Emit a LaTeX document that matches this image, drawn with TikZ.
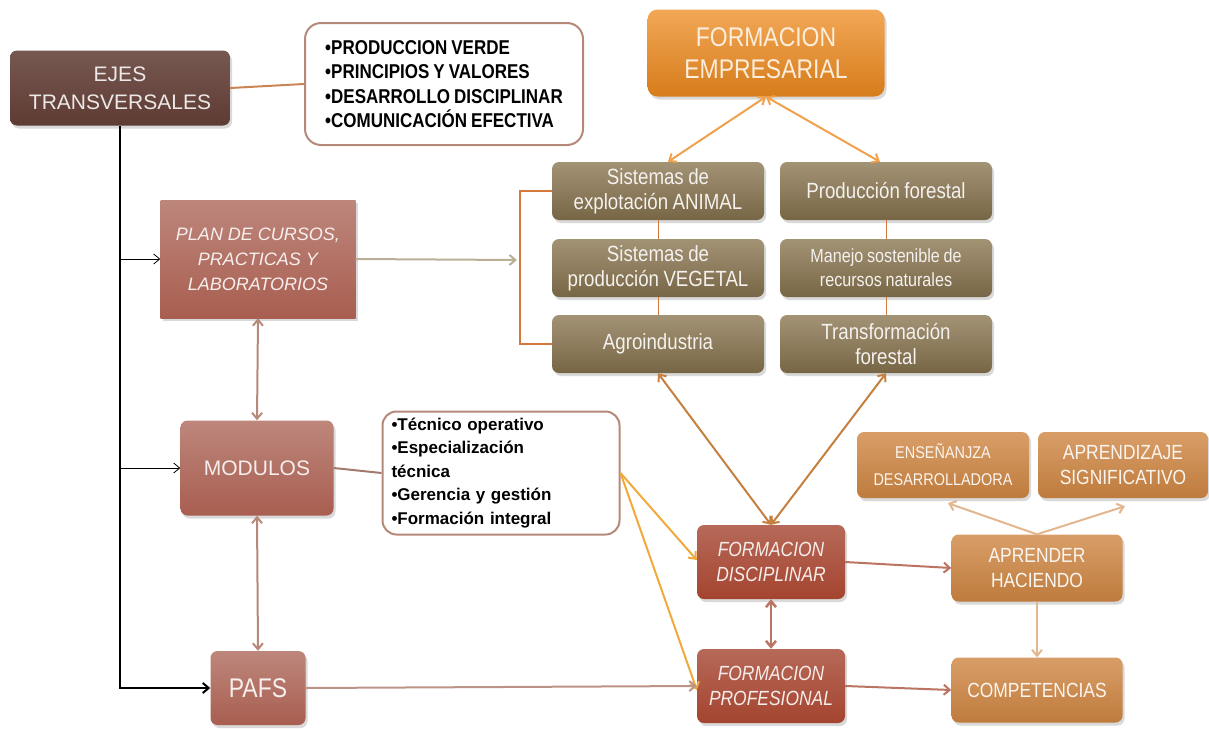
\documentclass[tikz,border=0pt]{standalone}
\usepackage{fontspec}
\setmainfont{Liberation Sans}
\newfontfamily\narrowfont{Liberation Sans}[FakeStretch=0.85, WordSpace=0.85]
\usetikzlibrary{positioning}
\usetikzlibrary{calc}
\usetikzlibrary{arrows.meta}
\usetikzlibrary{shadows}

\definecolor{ejesC}{HTML}{5E3B33}
\definecolor{empC}{HTML}{EE8A1E}
\definecolor{oliveC}{HTML}{8C7852}
\definecolor{roseC}{HTML}{A85E50}
\definecolor{redC}{HTML}{A4442F}
\definecolor{lightC}{HTML}{CF8642}
\definecolor{frameC}{HTML}{B5887A}
\definecolor{yellowC}{HTML}{F2A93B}

\tikzset{
  box/.style={rounded corners=7pt, align=center, inner sep=2pt,
    drop shadow={opacity=0.3, shadow xshift=2pt, shadow yshift=-3pt}},
  ejesbox/.style={box, top color=ejesC!85!white, bottom color=ejesC, text=white!88!ejesC,
    font=\fontsize{21}{28}\selectfont},
  listbox/.style={rounded corners=16pt, draw=frameC, line width=2pt, fill=white, text=black,
    font=\narrowfont\bfseries\fontsize{20}{24.5}\selectfont, align=left},
  empbox/.style={box, rounded corners=10pt, top color=empC!75!white, bottom color=empC!90!black,
    text=white!85!empC, font=\narrowfont\fontsize{27}{32}\selectfont},
  areabox/.style={box, minimum width=212pt, minimum height=58pt, top color=oliveC!80!white,
    bottom color=oliveC!85!black, text=white!90!oliveC, font=\narrowfont\fontsize{22}{25}\selectfont},
  planbox/.style={box, top color=roseC!75!white, bottom color=roseC, text=white!90!roseC,
    font=\fontsize{21}{24}\selectfont},
  formbox/.style={box, minimum width=148pt, minimum height=74pt, top color=redC!80!white,
    bottom color=redC, text=white!90!redC, font=\narrowfont\itshape\fontsize{20.5}{25}\selectfont},
  lightbox/.style={box, top color=lightC!80!white, bottom color=lightC!92!black,
    text=white!92!lightC, font=\narrowfont\fontsize{20.5}{25}\selectfont},
  link/.style={line width=2pt},
}

\begin{document}
\begin{tikzpicture}[x=1pt, y=-1pt, >={Straight Barb[length=6pt,width=10pt]}]
\useasboundingbox (0,0) rectangle (1209,728);

% left column
\node[ejesbox, minimum width=220pt, minimum height=75pt] (ejes) at (120,88) {EJES\\TRANSVERSALES};
\node[listbox, minimum width=278pt, minimum height=122pt] (ejeslist) at (444,84)
  {•PRODUCCION VERDE\\•PRINCIPIOS Y VALORES\\•DESARROLLO DISCIPLINAR\\•COMUNICACIÓN EFECTIVA};
\node[planbox, rounded corners=0pt, minimum width=195pt, minimum height=118pt,
  font=\itshape\fontsize{18}{25}\selectfont] (plan) at (258,259)
  {PLAN DE CURSOS,\\PRACTICAS Y\\LABORATORIOS};
\node[planbox, minimum width=153pt, minimum height=95pt] (modulos) at (257,468) {MODULOS};
\node[planbox, minimum width=95pt, minimum height=74pt, font=\narrowfont\fontsize{27}{30}\selectfont] (pafs) at (258,688) {PAFS};
\node[listbox, rounded corners=14pt, minimum width=237pt, minimum height=123pt, text width=219pt,
  inner xsep=9pt, font=\bfseries\fontsize{17}{23.5}\selectfont] (modlist) at (501,473)
  {•Técnico operativo\\•Especialización\\técnica\\•Gerencia y gestión\\•Formación integral};

% areas
\node[empbox, minimum width=237pt, minimum height=87pt] (empresarial) at (766,53) {FORMACION\\EMPRESARIAL};
\node[areabox] (animal) at (658,191) {Sistemas de\\explotación ANIMAL};
\node[areabox] (vegetal) at (658,268) {Sistemas de\\producción VEGETAL};
\node[areabox] (agro) at (658,344) {Agroindustria};
\node[areabox] (prodfor) at (886,191) {Producción forestal};
\node[areabox, font=\narrowfont\fontsize{19}{24}\selectfont] (manejo) at (886,268) {Manejo sostenible de\\recursos naturales};
\node[areabox] (transfor) at (886,344) {Transformación\\forestal};

% formacion
\node[formbox] (disciplinar) at (771,562) {FORMACION\\DISCIPLINAR};
\node[formbox] (profesional) at (771,686) {FORMACION\\PROFESIONAL};
\node[lightbox, minimum width=172pt, minimum height=66pt, font=\narrowfont\fontsize{17}{27}\selectfont] (ensenanza) at (943,465) {ENSEÑANJZA\\DESARROLLADORA};
\node[lightbox, minimum width=170pt, minimum height=66pt] (significativo) at (1123,465) {APRENDIZAJE\\SIGNIFICATIVO};
\node[lightbox, minimum width=171pt, minimum height=67pt] (aprender) at (1037,568) {APRENDER\\HACIENDO};
\node[lightbox, minimum width=171pt, minimum height=65pt] (competencias) at (1037,690) {COMPETENCIAS};

% ejes transversales
\draw[link, color=frameC!70!orange] (ejes.east) -- (ejeslist.west);
\draw[line width=2pt, ->] (ejes.south) |- (pafs.west);
\coordinate (p_plan) at (ejes.south |- plan.west);
\coordinate (p_mod) at (ejes.south |- modulos.west);
\draw[thick, ->] (p_plan) -- (plan.west);
\draw[thick, ->] (p_mod) -- (modulos.west);

% plan, modulos, pafs
\draw[link, color=frameC, <->] (plan.south) -- (modulos.north);
\draw[link, color=frameC, <->] (modulos.south) -- (pafs.north);
\draw[link, color=frameC!90!black] (modulos.east) -- (modlist.west);
\coordinate (brk) at (517,260);
\draw[link, color=oliveC!60!white, ->] (plan.east) -- (brk);
\draw[line width=2.5pt, color=lightC!90!red] (animal.west) -- ++(-32,0) |- (agro.west);

% empresarial
\draw[link, color=empC!80!white, <->] (empresarial.south) -- ($(animal.north)+(10,0)$);
\draw[link, color=empC!80!white, <->] (empresarial.south) -- ($(prodfor.north)+(-6,0)$);
\draw[thick, color=lightC!90!red] (animal.south) -- (vegetal.north);
\draw[thick, color=lightC!90!red] (vegetal.south) -- (agro.north);
\draw[thick, color=lightC!90!red] (prodfor.south) -- (manejo.north);
\draw[thick, color=lightC!90!red] (manejo.south) -- (transfor.north);
\draw[link, color=lightC!95!black, <->] (agro.south) -- (disciplinar.north);
\draw[link, color=lightC!95!black, <->] (transfor.south) -- (disciplinar.north);

% formacion
\draw[link, color=yellowC, ->] (modlist.east) -- ($(disciplinar.west)+(0,-2)$);
\draw[link, color=yellowC, ->] (modlist.east) -- ($(profesional.west)+(0,4)$);
\draw[link, color=frameC!90!white, ->] (pafs.east) -- (profesional.west);
\draw[line width=2.5pt, color=redC!75!white, <->] (disciplinar.south) -- (profesional.north);
\draw[link, color=redC!75!white, ->] (disciplinar.east) -- (aprender.west);
\draw[link, color=redC!75!white, ->] (profesional.east) -- (competencias.west);
\draw[link, color=lightC!60!white, ->] (aprender.north) -- ($(ensenanza.south)+(5,5)$);
\draw[link, color=lightC!60!white, ->] (aprender.north) -- ($(significativo.south)+(2,8)$);
\draw[link, color=lightC!60!white, ->] (aprender.south) -- (competencias.north);
\end{tikzpicture}
\end{document}
